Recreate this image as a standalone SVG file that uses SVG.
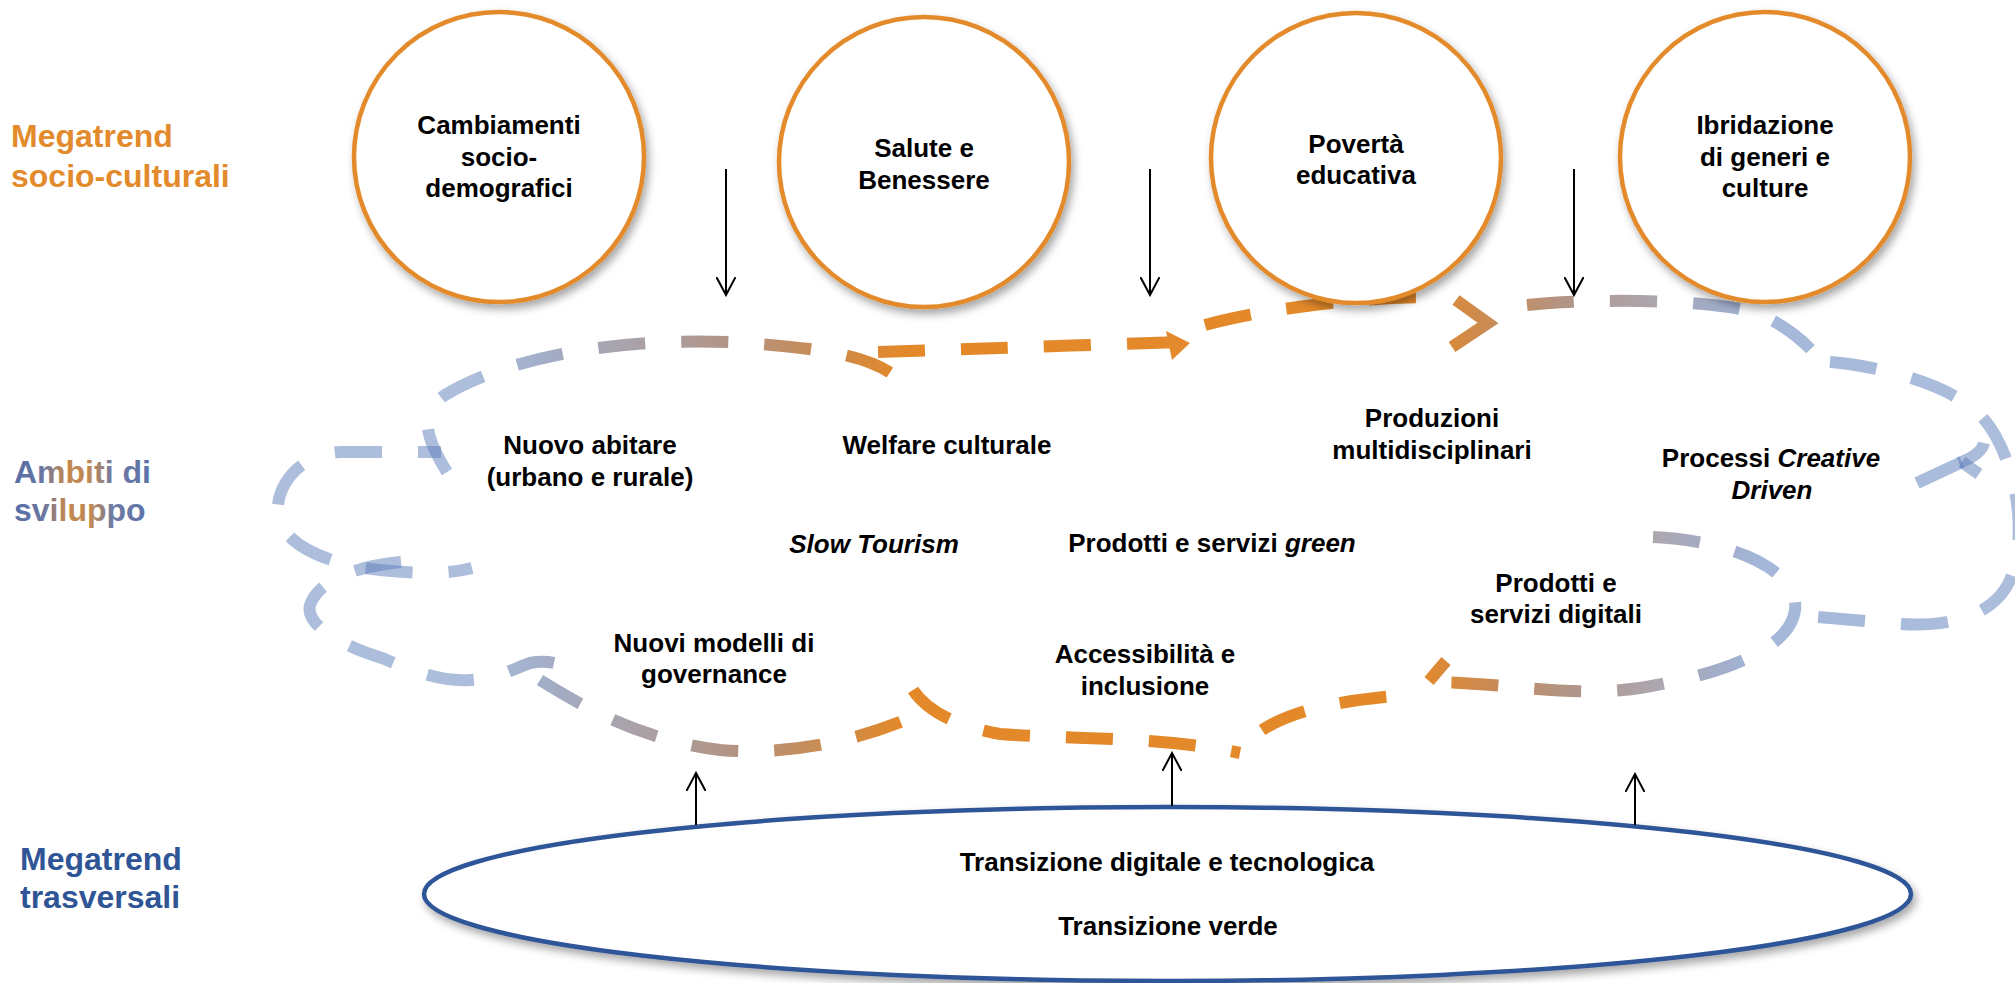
<svg xmlns="http://www.w3.org/2000/svg" width="2015" height="983" viewBox="0 0 2015 983">
<defs>
<style>
.lbl{font-family:"Liberation Sans",Arial,sans-serif;font-weight:bold;font-size:26px;fill:#000;text-anchor:middle}
.side{font-family:"Liberation Sans",Arial,sans-serif;font-weight:bold;font-size:32px}
.trend{fill:#fff;stroke:#E38A2C;stroke-width:4.5;filter:url(#sh)}
.base{fill:#fff;stroke:#2F5597;stroke-width:4.5;filter:url(#sh)}
.dash{fill:none;stroke:url(#cg);stroke-width:12;stroke-dasharray:47 36}
.seg{fill:none;stroke:url(#cg);stroke-width:12}
.arr{stroke:#000;stroke-width:2;fill:none;marker-end:url(#ah)}
</style>
<filter id="sh" x="-10%" y="-10%" width="125%" height="130%">
<feDropShadow dx="3" dy="5" stdDeviation="4" flood-color="#000" flood-opacity="0.35"/>
</filter>
<linearGradient id="cg" gradientUnits="userSpaceOnUse" x1="0" y1="0" x2="2015" y2="0">
<stop offset="0" stop-color="#5B7DBA" stop-opacity="0.5"/>
<stop offset="0.235" stop-color="#5B7DBA" stop-opacity="0.5"/>
<stop offset="0.30" stop-color="#9E9CAA" stop-opacity="0.9"/>
<stop offset="0.365" stop-color="#B39383"/>
<stop offset="0.42" stop-color="#D08A45"/>
<stop offset="0.447" stop-color="#E3892A"/>
<stop offset="0.705" stop-color="#E3892A"/>
<stop offset="0.74" stop-color="#C98B55"/>
<stop offset="0.78" stop-color="#B0958A"/>
<stop offset="0.824" stop-color="#A49EA8" stop-opacity="0.9"/>
<stop offset="0.875" stop-color="#5B7DBA" stop-opacity="0.55"/>
<stop offset="1" stop-color="#5B7DBA" stop-opacity="0.5"/>
</linearGradient>
<linearGradient id="ag" gradientUnits="userSpaceOnUse" x1="14" y1="0" x2="150" y2="0">
<stop offset="0" stop-color="#566DA6"/>
<stop offset="0.22" stop-color="#6A77A0"/>
<stop offset="0.38" stop-color="#C2884E"/>
<stop offset="0.58" stop-color="#BC8856"/>
<stop offset="0.72" stop-color="#6F7BA4"/>
<stop offset="1" stop-color="#5A72A8"/>
</linearGradient>
<marker id="ah" viewBox="0 0 20 20" refX="18" refY="10" markerWidth="20" markerHeight="20" markerUnits="userSpaceOnUse" orient="auto">
<path d="M0,0.4 L18,10 L0,19.6" fill="none" stroke="#000" stroke-width="2"/>
</marker>
</defs>
<rect width="2015" height="983" fill="#fff"/>

<g id="side-labels">
<text class="side" fill="#E38A2C"><tspan x="11" y="147">Megatrend</tspan><tspan x="11" y="187">socio-culturali</tspan></text>
<text class="side" fill="url(#ag)"><tspan x="14" y="483">Ambiti di</tspan><tspan x="14" y="521">sviluppo</tspan></text>
<text class="side" fill="#2F5597"><tspan x="20" y="870">Megatrend</tspan><tspan x="20" y="908">trasversali</tspan></text>
</g>

<g id="cloud">
<path class="dash" d="M447 472 C430 445 415 415 445 395 C520 350 650 335 760 344 C820 349 865 355 892 374"/>
<path class="dash" style="stroke-dashoffset:24" d="M441 452 L340 452 C295 455 275 490 278 515 C282 545 330 565 380 570 C420 574 450 574 472 568"/>
<path class="dash" d="M401 562 C360 566 320 578 310 605 C305 625 340 645 382 658 C410 670 440 682 470 680 C500 678 515 668 530 663 C545 660 555 663 562 665"/>
<path class="dash" d="M540 680 C580 705 640 740 720 750 C790 756 860 740 915 716"/>
<path class="dash" d="M913 690 C925 708 950 725 1000 734 C1080 740 1160 736 1240 753"/>
<path class="dash" d="M878 352 C950 350 1080 345 1180 342"/>
<polygon points="1166,331 1190,343 1172,360" fill="#E38A2C"/>
<path class="dash" d="M1205 325 C1260 310 1350 298 1425 297"/>
<path class="seg" d="M1456 300 L1488 323 L1452 347"/>
<path class="dash" d="M1262 730 C1290 712 1330 702 1395 696"/>
<path class="seg" d="M1446 661 L1429 681"/>
<path class="dash" d="M1653 537 C1730 540 1800 570 1795 610 C1790 650 1720 675 1640 688 C1570 698 1500 682 1432 682"/>
<path class="dash" d="M1527 305 C1600 298 1700 300 1745 310 C1775 318 1800 335 1825 365"/>
<path class="dash" d="M1830 362 C1870 365 1940 380 1975 410 C2010 440 2030 520 2012 575 C2000 610 1960 628 1900 624 L1818 617"/>
<path class="seg" d="M1917 483 L1962 462"/>
<path class="seg" d="M1959 463 C1972 458 1982 452 1984 443"/>
<path class="seg" d="M1962 462 L1979 474"/>
</g>

<g id="trend-1"><ellipse class="trend" cx="499" cy="157" rx="145" ry="145"/>
<text class="lbl"><tspan x="499" y="134">Cambiamenti</tspan><tspan x="499" y="166">socio-</tspan><tspan x="499" y="197">demografici</tspan></text></g>
<g id="trend-2"><ellipse class="trend" cx="924" cy="162" rx="145" ry="145"/>
<text class="lbl"><tspan x="924" y="157">Salute e</tspan><tspan x="924" y="189">Benessere</tspan></text></g>
<g id="trend-3"><ellipse class="trend" cx="1356" cy="158" rx="145" ry="145"/>
<text class="lbl"><tspan x="1356" y="153">Povertà</tspan><tspan x="1356" y="184">educativa</tspan></text></g>
<g id="trend-4"><ellipse class="trend" cx="1765" cy="157" rx="145" ry="145"/>
<text class="lbl"><tspan x="1765" y="134">Ibridazione</tspan><tspan x="1765" y="166">di generi e</tspan><tspan x="1765" y="197">culture</tspan></text></g>

<g id="ambiti">
<text class="lbl"><tspan x="590" y="454">Nuovo abitare</tspan><tspan x="590" y="486">(urbano e rurale)</tspan></text>
<text class="lbl" x="947" y="454">Welfare culturale</text>
<text class="lbl"><tspan x="1432" y="427">Produzioni</tspan><tspan x="1432" y="459">multidisciplinari</tspan></text>
<text class="lbl"><tspan x="1771" y="467">Processi <tspan font-style="italic">Creative</tspan></tspan><tspan x="1772" y="499" font-style="italic">Driven</tspan></text>
<text class="lbl" x="874" y="553" font-style="italic">Slow Tourism</text>
<text class="lbl" x="1212" y="552">Prodotti e servizi <tspan font-style="italic">green</tspan></text>
<text class="lbl"><tspan x="1556" y="592">Prodotti e</tspan><tspan x="1556" y="623">servizi digitali</tspan></text>
<text class="lbl"><tspan x="714" y="652">Nuovi modelli di</tspan><tspan x="714" y="683">governance</tspan></text>
<text class="lbl"><tspan x="1145" y="663">Accessibilità e</tspan><tspan x="1145" y="695">inclusione</tspan></text>
</g>

<g id="trasversali"><ellipse class="base" cx="1167.5" cy="894" rx="743.5" ry="87"/>
<text class="lbl"><tspan x="1167" y="871">Transizione digitale e tecnologica</tspan><tspan x="1168" y="935">Transizione verde</tspan></text></g>

<g id="connectors">
<line class="arr" x1="726" y1="169" x2="726" y2="295"/>
<line class="arr" x1="1150" y1="169" x2="1150" y2="295"/>
<line class="arr" x1="1574" y1="169" x2="1574" y2="295"/>
<line class="arr" x1="696" y1="825" x2="696" y2="773"/>
<line class="arr" x1="1172" y1="806" x2="1172" y2="753"/>
<line class="arr" x1="1635" y1="825" x2="1635" y2="774"/>
</g>
</svg>
